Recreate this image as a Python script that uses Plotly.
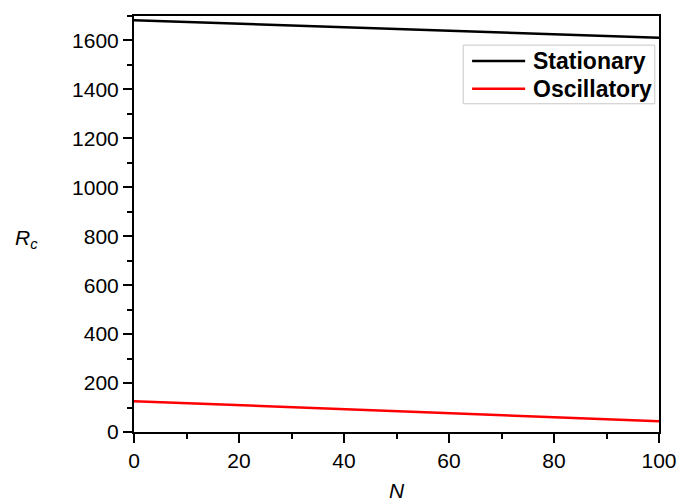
import plotly.graph_objects as go

# Critical Rayleigh number versus N for the two onset modes
n_values = [0, 10, 20, 30, 40, 50, 60, 70, 80, 90, 100]
rc_stationary = [1683, 1676, 1669, 1662, 1655, 1647, 1640, 1633, 1626, 1618, 1611]
rc_oscillatory = [126, 118, 110, 101, 93, 85, 77, 69, 60, 52, 44]

series_names = ["Stationary", "Oscillatory"]
series_colors = ["black", "#ff0000"]

x_ticks = [0, 20, 40, 60, 80, 100]
y_ticks = [0, 200, 400, 600, 800, 1000, 1200, 1400, 1600]

FONT = "Liberation Sans, Arial, sans-serif"

fig = go.Figure()
for name, color, values in zip(series_names, series_colors, [rc_stationary, rc_oscillatory]):
    fig.add_trace(go.Scatter(x=n_values, y=values, mode="lines", name=name,
                             line=dict(color=color, width=2.5)))

axis_common = dict(
    showgrid=False, zeroline=False, showline=True, linecolor="black", linewidth=2,
    mirror=True, ticks="outside", ticklen=9, tickwidth=2, tickcolor="black",
    tickfont=dict(family=FONT, size=21, color="black"), automargin=False,
)

fig.update_xaxes(range=[0, 100], tickvals=x_ticks,
                 minor=dict(ticks="outside", ticklen=5, tickwidth=2, tickcolor="black", dtick=10),
                 **axis_common)
fig.update_yaxes(range=[0, 1700], tickvals=y_ticks,
                 minor=dict(ticks="outside", ticklen=5, tickwidth=2, tickcolor="black", dtick=100),
                 **axis_common)

# axis labels
fig.add_annotation(text="<i>N</i>", xref="paper", yref="paper",
                   x=0.5, y=-0.14, showarrow=False, xanchor="center", yanchor="middle",
                   font=dict(family=FONT, size=21, color="black"))
fig.add_annotation(text="<i>R</i><sub><i>c</i></sub>", xref="paper", yref="paper",
                   x=-0.205, y=0.465, showarrow=False, xanchor="center", yanchor="middle",
                   font=dict(family=FONT, size=21, color="black"))

# legend box in the upper right corner
fig.add_shape(type="rect", xref="paper", yref="paper",
              x0=0.627, x1=0.992, y0=0.789, y1=0.930,
              line=dict(color="#c8c8c8", width=1), fillcolor="white", layer="above")
legend_rows_y = [0.892, 0.825]
for name, color, ly in zip(series_names, series_colors, legend_rows_y):
    fig.add_shape(type="line", xref="paper", yref="paper",
                  x0=0.644, x1=0.745, y0=ly, y1=ly,
                  line=dict(color=color, width=2.5), layer="above")
    fig.add_annotation(text="<b>" + name + "</b>", xref="paper", yref="paper",
                       x=0.756, y=ly, xanchor="left", yanchor="middle", showarrow=False,
                       font=dict(family=FONT, size=23, color="black"))

fig.update_layout(
    width=680, height=504,
    margin=dict(l=134, r=21, t=16, b=72),
    paper_bgcolor="white", plot_bgcolor="white",
    showlegend=False,
)

fig.write_html("out.html")
